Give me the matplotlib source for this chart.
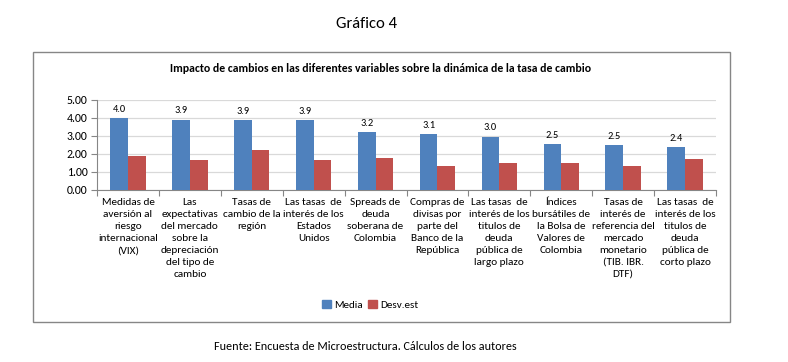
import matplotlib
matplotlib.use("Agg")
import matplotlib.pyplot as plt
import numpy as np
from matplotlib import font_manager
from matplotlib.patches import Rectangle, Patch

# fuente tipo Calibri si hay alguna
_avail = {f.name for f in font_manager.fontManager.ttflist}
FONT = next((f for f in ("Carlito", "Lato", "Open Sans", "DejaVu Sans") if f in _avail), "DejaVu Sans")
plt.rcParams["font.family"] = [FONT, "DejaVu Sans"]

BLUE = "#4F81BD"
RED = "#C0504D"
GREY = "#868686"

categorias = [
    "Medidas de\naversión al\nriesgo\ninternacional\n(VIX)",
    "Las\nexpectativas\ndel mercado\nsobre la\ndepreciación\ndel tipo de\ncambio",
    "Tasas de\ncambio de la\nregión",
    "Las tasas  de\ninterés de los\nEstados\nUnidos",
    "Spreads de\ndeuda\nsoberana de\nColombia",
    "Compras de\ndivisas por\nparte del\nBanco de la\nRepública",
    "Las tasas  de\ninterés de los\ntitulos de\ndeuda\npública de\nlargo plazo",
    "Índices\nbursátiles de\nla Bolsa de\nValores de\nColombia",
    "Tasas de\ninterés de\nreferencia del\nmercado\nmonetario\n(TIB. IBR.\nDTF)",
    "Las tasas  de\ninterés de los\ntitulos de\ndeuda\npública de\ncorto plazo",
]
media = [3.99, 3.91, 3.87, 3.87, 3.21, 3.12, 2.97, 2.54, 2.51, 2.37]
desv_est = [1.87, 1.65, 2.24, 1.65, 1.78, 1.35, 1.50, 1.50, 1.32, 1.74]
yticks = [0, 1, 2, 3, 4, 5]

W, H = 788, 362
fig = plt.figure(figsize=(W / 100, H / 100), dpi=100)

# marco del gráfico
fig.patches.append(Rectangle((33 / W, 1 - 322 / H), (730 - 33) / W, (322 - 52) / H,
                             transform=fig.transFigure, fill=False,
                             edgecolor=GREY, linewidth=1.0))

ax = fig.add_axes([97 / W, 1 - 190 / H, (716 - 97) / W, 90 / H])
x = np.arange(len(categorias))
w = 1 / 3.5
ax.bar(x - w / 2, media, w, color=BLUE, label="Media", zorder=3)
ax.bar(x + w / 2, desv_est, w, color=RED, label="Desv.est", zorder=3)

for xi, v in zip(x, media):
    ax.annotate(f"{v:.1f}", (xi - w / 2, v), xytext=(0, 3), textcoords="offset points",
                ha="center", va="bottom", fontsize=7.5)

ax.set_xlim(-0.5, len(categorias) - 0.5)
ax.set_ylim(0, 5)
ax.set_yticks(yticks)
ax.set_yticklabels([f"{v:.2f}" for v in yticks], fontsize=8.5)
ax.grid(axis="y", color="#D9D9D9", linewidth=0.9, zorder=0)

ax.set_xticks(x)
ax.set_xticklabels(categorias, fontsize=8.1, linespacing=1.42)
ax.tick_params(axis="x", which="major", length=0, pad=6)
ax.set_xticks(np.arange(len(categorias) + 1) - 0.5, minor=True)
ax.tick_params(axis="x", which="minor", length=4, color=GREY, width=0.8)
ax.tick_params(axis="y", length=4, color=GREY, width=0.8, pad=3)

for s in ("top", "right"):
    ax.spines[s].set_visible(False)
for s in ("left", "bottom"):
    ax.spines[s].set_color(GREY)
    ax.spines[s].set_linewidth(0.8)

fig.text(381 / W, 1 - 68 / H,
         "Impacto de cambios en las diferentes variables sobre la dinámica de la tasa de cambio",
         ha="center", va="center", fontsize=8.5, fontweight="bold")
fig.text(367 / W, 1 - 24 / H, "Gráfico 4", ha="center", va="center", fontsize=12)
fig.text(365 / W, 1 - 346 / H, "Fuente: Encuesta de Microestructura. Cálculos de los autores",
         ha="center", va="center", fontsize=8.7)

handles = [Patch(color=BLUE), Patch(color=RED)]
fig.legend(handles, ["Media", "Desv.est"], loc="center", bbox_to_anchor=(370 / W, 1 - 305 / H),
           ncol=2, frameon=False, fontsize=8, handlelength=0.8, handleheight=0.8,
           handletextpad=0.3, columnspacing=0.5)

fig.savefig("out.png", dpi=100, facecolor="white")
